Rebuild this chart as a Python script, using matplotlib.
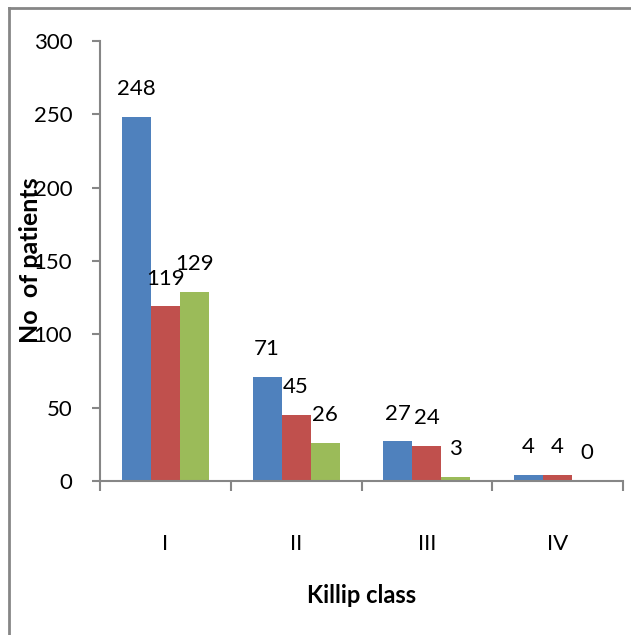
import matplotlib
matplotlib.use("Agg")
import matplotlib.pyplot as plt
from matplotlib.lines import Line2D
import numpy as np

# Patients per Killip class: all patients and the two subgroups
classes = ["I", "II", "III", "IV"]
total = [248, 71, 27, 4]
group_a = [119, 45, 24, 4]
group_b = [129, 26, 3, 0]

colors = ["#4F81BD", "#C0504D", "#9BBB59"]
axis_grey = "#868686"

plt.rcParams["font.family"] = ["Lato", "DejaVu Sans"]

fig = plt.figure(figsize=(6.31, 6.35), dpi=100)
ax = fig.add_axes([100 / 631, 1 - 481 / 635, 523 / 631, 440 / 635])

x = np.arange(len(classes))
width = 0.222
for i, (vals, col) in enumerate(zip([total, group_a, group_b], colors)):
    pos = x + (i - 1) * width
    ax.bar(pos, vals, width=width, color=col, linewidth=0)
    for px, v in zip(pos, vals):
        ax.annotate(str(v), (px, v), xytext=(0, 20), textcoords="offset points",
                    ha="center", va="center", fontsize=16, color="black")

ax.set_xlim(-0.5, len(classes) - 0.5)
ax.set_ylim(0, 300)
ax.set_yticks(range(0, 301, 50))

# category labels in the middle, tick marks on the boundaries
ax.set_xticks(x)
ax.set_xticklabels(classes, fontsize=16)
ax.tick_params(axis="x", length=0, pad=38)
ax.set_xticks(np.arange(-0.5, len(classes)), minor=True)
ax.tick_params(axis="x", which="minor", length=7, width=1.5, color=axis_grey, direction="out")
ax.tick_params(axis="y", length=6, width=1.5, color=axis_grey, labelsize=16, pad=14)

for side in ["top", "right"]:
    ax.spines[side].set_visible(False)
for side in ["left", "bottom"]:
    ax.spines[side].set_color(axis_grey)
    ax.spines[side].set_linewidth(1.5)

ax.set_xlabel("Killip class", fontsize=17, fontweight="bold", labelpad=22)
fig.text(31 / 631, 1 - 260 / 635, "No  of patients", rotation=90, fontsize=18,
         fontweight="bold", ha="center", va="center")

# chart area outline
fig.add_artist(Line2D([9 / 631, 9 / 631], [0, 1 - 8 / 635], transform=fig.transFigure,
                      color=axis_grey, linewidth=2))
fig.add_artist(Line2D([9 / 631, 1], [1 - 8 / 635, 1 - 8 / 635], transform=fig.transFigure,
                      color=axis_grey, linewidth=2))

fig.savefig("out.png", dpi=100)
